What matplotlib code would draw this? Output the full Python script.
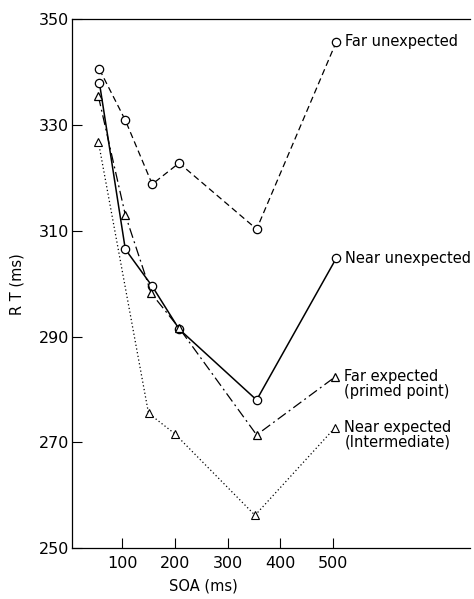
import matplotlib
matplotlib.use("Agg")
import matplotlib.pyplot as plt

far_unexp_x = [57, 106, 157, 208, 355, 506]
far_unexp_y = [340.5, 330.9, 318.8, 322.8, 310.3, 345.7]

near_unexp_x = [57, 106, 157, 208, 355, 506]
near_unexp_y = [337.9, 306.5, 299.5, 291.4, 278.0, 304.8]

far_exp_x = [55, 106, 155, 208, 355, 503]
far_exp_y = [335.4, 313.0, 298.2, 291.6, 271.4, 282.3]

near_exp_x = [55, 150, 200, 352, 503]
near_exp_y = [326.8, 275.5, 271.6, 256.2, 272.7]

x_ticks = [100, 200, 300, 400, 500]
y_ticks = [250, 270, 290, 310, 330, 350]

fig = plt.figure(figsize=(4.74, 5.99), dpi=100)
ax = fig.add_axes([0.152, 0.085, 0.84, 0.883])

ax.plot(far_unexp_x, far_unexp_y, color="black", lw=0.9, ls=(0, (5, 3)),
        marker="o", ms=6, mfc="white", mec="black", mew=0.9)
ax.plot(near_unexp_x, near_unexp_y, color="black", lw=1.1, ls="-",
        marker="o", ms=6, mfc="white", mec="black", mew=0.9)
ax.plot(far_exp_x, far_exp_y, color="black", lw=0.9, ls=(0, (8, 3, 1.5, 3)),
        marker="^", ms=5.5, mfc="white", mec="black", mew=0.9)
ax.plot(near_exp_x, near_exp_y, color="black", lw=0.9, ls=(0, (1, 2)),
        marker="^", ms=5.5, mfc="white", mec="black", mew=0.8)

ax.set_xlim(5, 760)
ax.set_ylim(250, 350)
ax.set_xticks(x_ticks)
ax.set_yticks(y_ticks)
ax.tick_params(direction="in", length=7, width=0.8, labelsize=11.5, pad=2)
ax.tick_params(axis="x", pad=6)
ax.spines["right"].set_visible(False)
for s in ["left", "bottom", "top"]:
    ax.spines[s].set_linewidth(0.9)

ax.set_xlabel("SOA (ms)", fontsize=10.5)
ax.set_ylabel("R T (ms)", fontsize=10.5)
ax.xaxis.set_label_coords(0.33, -0.058)
ax.yaxis.set_label_coords(-0.12, 0.5)

fs = 10.5
ax.annotate("Far unexpected", (far_unexp_x[-1], far_unexp_y[-1]), xytext=(6, 0),
            textcoords="offset points", va="center", ha="left", fontsize=fs)
ax.annotate("Near unexpected", (near_unexp_x[-1], near_unexp_y[-1]), xytext=(6, 0),
            textcoords="offset points", va="center", ha="left", fontsize=fs)
ax.annotate("Far expected\n(primed point)", (far_exp_x[-1], far_exp_y[-1]), xytext=(7, 6),
            textcoords="offset points", va="top", ha="left", fontsize=fs, linespacing=1.0)
ax.annotate("Near expected\n(Intermediate)", (near_exp_x[-1], near_exp_y[-1]), xytext=(7, 6),
            textcoords="offset points", va="top", ha="left", fontsize=fs, linespacing=1.0)

fig.savefig("out.png", dpi=100)
